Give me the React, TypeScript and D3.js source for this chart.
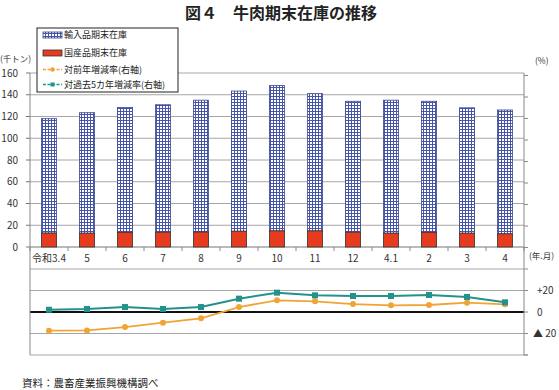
import React from "react";
import * as d3 from "d3";

// 年.月
const categories = ["令和3.4", "5", "6", "7", "8", "9", "10", "11", "12", "4.1", "2", "3", "4"];
// 千トン
const importStock = [105.2, 110.8, 114.8, 117.2, 121.3, 128.9, 133.6, 126.2, 120.4, 122.3, 120.5, 115.3, 113.9];
const domesticStock = [12.8, 12.7, 13.5, 13.6, 13.7, 14.5, 14.8, 14.8, 13.6, 12.7, 13.5, 12.7, 12.1];
// %
const yoyRate = [-17.4, -17.1, -14, -9.9, -5.9, 4.6, 10.9, 9.9, 7.4, 6.2, 6.5, 8.7, 7.1];
const vs5yRate = [2.1, 2.8, 4.6, 2.8, 4.6, 12.4, 18.0, 15.5, 14.9, 14.9, 15.8, 14.0, 9.0];

const leftTicks = [0, 20, 40, 60, 80, 100, 120, 140, 160];
const rightTicks = [
  { v: 20, label: "+20", x: 537 },
  { v: 0, label: "0", x: 537 },
  { v: -20, label: "▲ 20", x: 533 },
];

const W = 559;
const H = 390;
const FONT = "'Noto Sans CJK JP', 'Noto Sans', sans-serif";

const BLUE_EDGE = "#3b4688";
const RED = "#e63b1f";
const ORANGE = "#f0a434";
const TEAL = "#23918c";
const GRID = "#a6a6a6";

export default function App() {
  const left = 30;
  const right = 524;
  const top = 73;
  const base = 247;
  const lowTop = 269;
  const lowBottom = 355;

  const x = d3.scaleBand<string>().domain(categories).range([left, right]).paddingInner(0.6).paddingOuter(0.3);
  const y = d3.scaleLinear().domain([0, 160]).range([base, top]);
  const yr = d3.scaleLinear().domain([-40, 40]).range([lowBottom, lowTop]);
  const cx = (i: number) => (x(categories[i]) as number) + x.bandwidth() / 2;

  const line = d3
    .line<number>()
    .x((_, i) => cx(i))
    .y((d) => yr(d));

  const rightAxisTicks = d3.range(-40, 221, 20).filter((v) => yr(v) >= top - 1);

  return (
    <svg
      width={W}
      height={H}
      style={{ position: "absolute", left: 0, top: 0, background: "#fff" }}
      fontFamily={FONT}
    >
      <defs>
        <pattern id="grid" width={3} height={3} patternUnits="userSpaceOnUse">
          <rect width={3} height={3} fill="#ffffff" />
          <rect width={1} height={3} fill="#4556aa" />
          <rect width={3} height={1} fill="#4556aa" />
        </pattern>
      </defs>

      {/* title */}
      <text x={281} y={13} dy="0.35em" textAnchor="middle" fontSize={16} fontWeight="bold" fill="#222">
        図４　牛肉期末在庫の推移
      </text>

      {/* top grid */}
      {leftTicks.map((t) => (
        <g key={t}>
          <line x1={left} x2={right} y1={y(t)} y2={y(t)} stroke={t === 0 ? "#777" : GRID} strokeWidth={1} />
          <line x1={left - 4} x2={left} y1={y(t)} y2={y(t)} stroke="#777" />
          <text x={18} y={y(t)} dy="0.35em" textAnchor="end" fontSize={10} fill="#333">
            {t}
          </text>
        </g>
      ))}

      {/* bottom grid */}
      {[40, 20, -20].map((v) => (
        <line key={v} x1={left} x2={right} y1={yr(v)} y2={yr(v)} stroke={GRID} />
      ))}
      <line x1={left} x2={right + 4} y1={lowBottom} y2={lowBottom} stroke={GRID} />
      <line x1={left} x2={right} y1={yr(0)} y2={yr(0)} stroke="#111" strokeWidth={2} />

      {/* axes */}
      <line x1={left} x2={left} y1={top} y2={lowBottom} stroke="#888" />
      <line x1={right} x2={right} y1={top} y2={lowBottom} stroke="#888" />
      {rightAxisTicks.map((v) => (
        <line key={v} x1={right} x2={right + 4} y1={yr(v)} y2={yr(v)} stroke="#888" />
      ))}
      {categories.map((c, i) => {
        const bx = left + i * x.step();
        return <line key={c} x1={bx} x2={bx} y1={base} y2={base + 4} stroke="#888" />;
      })}
      <line x1={right} x2={right} y1={base} y2={base + 4} stroke="#888" />

      {/* bars */}
      {categories.map((c, i) => (
        <g key={c}>
          <rect
            x={x(c)}
            y={y(domesticStock[i] + importStock[i])}
            width={x.bandwidth()}
            height={y(domesticStock[i]) - y(domesticStock[i] + importStock[i])}
            fill="url(#grid)"
            stroke={BLUE_EDGE}
            strokeWidth={0.8}
          />
          <rect
            x={x(c)}
            y={y(domesticStock[i])}
            width={x.bandwidth()}
            height={y(0) - y(domesticStock[i])}
            fill={RED}
            stroke="#333"
            strokeWidth={0.8}
          />
        </g>
      ))}

      {/* x labels */}
      {categories.map((c, i) => (
        <text key={c} x={cx(i)} y={258} dy="0.35em" textAnchor="middle" fontSize={10} fill="#333">
          {c}
        </text>
      ))}

      {/* lines */}
      <path d={line(yoyRate) || ""} fill="none" stroke={ORANGE} strokeWidth={1.8} />
      {yoyRate.map((v, i) => (
        <circle key={i} cx={cx(i)} cy={yr(v)} r={3} fill={ORANGE} />
      ))}
      <path d={line(vs5yRate) || ""} fill="none" stroke={TEAL} strokeWidth={2} />
      {vs5yRate.map((v, i) => (
        <rect key={i} x={cx(i) - 3} y={yr(v) - 3} width={6} height={6} fill={TEAL} />
      ))}

      {/* right labels */}
      {rightTicks.map((t) => (
        <text key={t.v} x={t.x} y={yr(t.v)} dy="0.35em" fontSize={10} fill="#333">
          {t.label}
        </text>
      ))}
      <text x={0} y={59} dy="0.35em" fontSize={8.5} fill="#333">(千トン)</text>
      <text x={535} y={61} dy="0.35em" fontSize={8.5} fill="#333">(%)</text>
      <text x={529} y={256} dy="0.35em" fontSize={8.5} fill="#333">(年.月)</text>

      {/* legend */}
      <g>
        <rect x={37} y={28} width={141} height={64} fill="#fff" stroke="#222" strokeWidth={1} />
        <rect x={43} y={32} width={19} height={6} fill="url(#grid)" stroke={BLUE_EDGE} strokeWidth={0.8} />
        <text x={64} y={35} dy="0.35em" fontSize={9} fill="#222">輸入品期末在庫</text>
        <rect x={43} y={50} width={19} height={6} fill={RED} stroke="#333" strokeWidth={0.8} />
        <text x={64} y={53} dy="0.35em" fontSize={9} fill="#222">国産品期末在庫</text>
        <line x1={43} x2={62} y1={69.5} y2={69.5} stroke={ORANGE} strokeWidth={1.5} strokeDasharray="3,1.5" />
        <circle cx={52.5} cy={69.5} r={2.2} fill={ORANGE} />
        <text x={64} y={70} dy="0.35em" fontSize={9} fill="#222">対前年増減率(右軸)</text>
        <line x1={43} x2={62} y1={84.5} y2={84.5} stroke={TEAL} strokeWidth={1.5} strokeDasharray="3,1.5" />
        <rect x={50.5} y={82.5} width={4} height={4} fill={TEAL} />
        <text x={64} y={85} dy="0.35em" fontSize={9} fill="#222">対過去5カ年増減率(右軸)</text>
      </g>

      {/* source */}
      <text x={22} y={383} dy="0.35em" fontSize={10.5} fill="#222">資料：農畜産業振興機構調べ</text>
    </svg>
  );
}
